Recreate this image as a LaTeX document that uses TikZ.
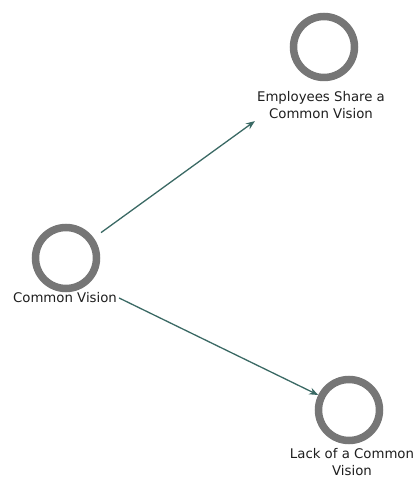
\documentclass[tikz,border=0pt]{standalone}
\usepackage{fontspec}
\setmainfont{DejaVu Sans}
\usetikzlibrary{arrows.meta}
\definecolor{ringgray}{HTML}{767676}
\definecolor{arrowteal}{HTML}{3A6964}
\definecolor{labeltext}{HTML}{1E1E1E}
\begin{document}
\begin{tikzpicture}[x=1pt,y=1pt,
  ring/.style={circle,draw=ringgray,line width=7.5pt,minimum size=61pt,inner sep=0pt},
  lbl/.style={text=labeltext,font=\fontsize{13.3}{17.5}\selectfont,align=center,inner sep=2pt},
  link/.style={draw=arrowteal,line width=1.3pt,-{Stealth[length=9pt,width=7pt]}}]
\useasboundingbox (0,0) rectangle (417,479);
\node[ring] (cvc) at (66,221) {};
\node[lbl] (cvl) at (65,181) {Common Vision};
\node[ring] (esc) at (324,432) {};
\node[lbl] (esl) at (321,374) {Employees Share a\\Common Vision};
\node[ring] (lcc) at (349,69) {};
\node[lbl] (lcl) at (352,17) {Lack of a Common\\Vision};
\path[link,shorten <=9pt] (cvc) -- (esl.south west);
\path[link] (cvl.east) -- (lcc);
\end{tikzpicture}
\end{document}
